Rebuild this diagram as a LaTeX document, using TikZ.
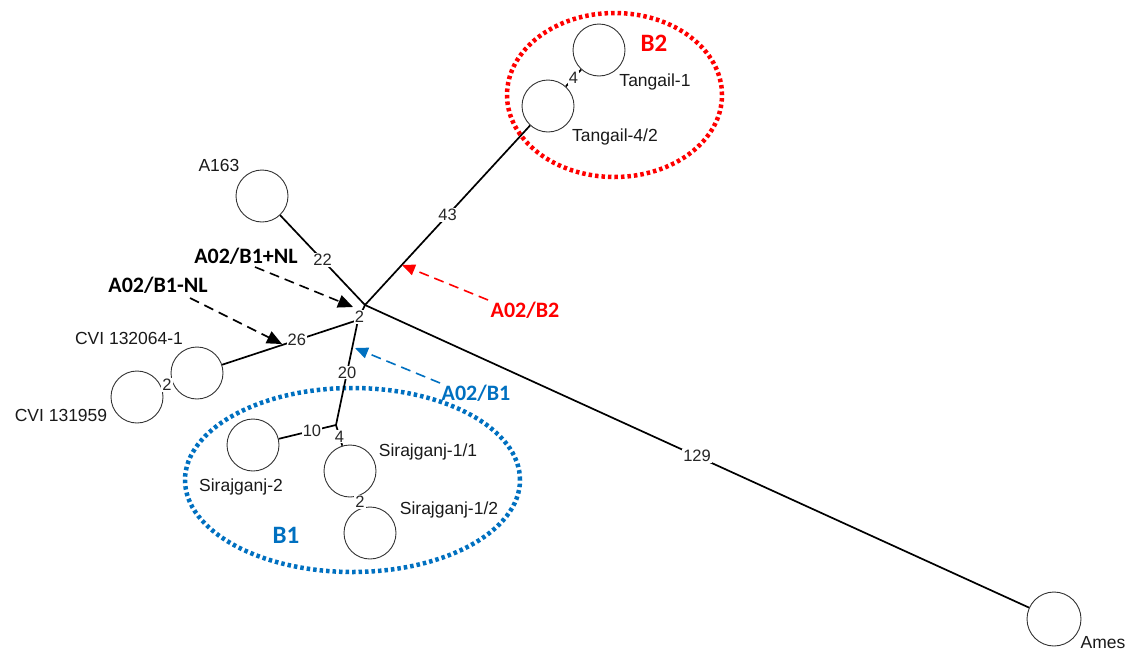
\documentclass[tikz,border=0pt]{standalone}
\usepackage{fontspec}
\setmainfont{Liberation Sans}
\newfontfamily\calib{Carlito}
\usetikzlibrary{arrows.meta}
\definecolor{grpred}{RGB}{255,0,0}
\definecolor{grpblue}{RGB}{0,112,192}
\begin{document}
\begin{tikzpicture}[x=1pt,y=-1pt,
  hap/.style={circle,draw=black!80,line width=0.9pt,minimum size=52pt,inner sep=0pt},
  edge/.style={line width=1.7pt,black},
  elabel/.style={fill=white,inner sep=1pt,font=\fontsize{16.5}{16.5}\selectfont,text=black!85},
  hname/.style={font=\fontsize{17.5}{18}\selectfont,inner sep=0pt,text=black!90},
  tag/.style={font=\calib\bfseries\fontsize{22}{22}\selectfont,inner sep=0pt},
  darrow/.style={line width=1.6pt,dash pattern=on 10pt off 6pt,-{Triangle[length=15pt,width=13pt]}},
  grp/.style={line width=4.5pt,dash pattern=on 3.5pt off 3pt},
]
\useasboundingbox (0,0) rectangle (1132,651);

% group outlines
\draw[grp,grpred] (614.5,95) ellipse[x radius=107.5pt,y radius=82pt];
\draw[grp,grpblue] (352.5,480) ellipse[x radius=167.5pt,y radius=92pt];

% haplotype circles
\node[hap] (t1) at (599,50) {};
\node[hap] (t42) at (548,106) {};
\node[hap] (a163) at (262,196) {};
\node[hap] (cvi1) at (197,373) {};
\node[hap] (cvi2) at (137,397) {};
\node[hap] (s2) at (253,445) {};
\node[hap] (s11) at (350,471) {};
\node[hap] (s12) at (370,533) {};
\node[hap,minimum size=54pt] (ames) at (1054,619) {};

% median vertices
\coordinate (hub) at (365,305);
\coordinate (j1) at (358,320);
\coordinate (j2) at (336,425);

% network edges
\draw[edge] (hub) -- (t42);
\draw[edge] (hub) -- (a163);
\draw[edge] (hub) -- (ames);
\draw[edge] (hub) -- (j1);
\draw[edge] (j1) -- (cvi1);
\draw[edge] (j1) -- (j2);
\draw[edge] (j2) -- (s2);
\draw[edge] (j2) -- (s11);
\draw[edge] (s11) -- (s12);
\draw[edge] (cvi1) -- (cvi2);
\draw[edge] (t1) -- (t42);

% mutation counts
\path (hub) -- (t42) node[elabel,pos=0.5] (m43) {43};
\path (hub) -- (a163) node[elabel,pos=0.5] (m22) {22};
\path (hub) -- (ames) node[elabel,pos=0.5] (m129) {129};
\path (hub) -- (j1) node[elabel,pos=0.8] (m2a) {2};
\path (j1) -- (cvi1) node[elabel,pos=0.45] (m26) {26};
\path (j1) -- (j2) node[elabel,pos=0.5] (m20) {20};
\path (j2) -- (s2) node[elabel,pos=0.42] (m10) {10};
\path (j2) -- (s11) node[elabel,pos=0.55] (m4a) {4};
\path (s11) -- (s12) node[elabel,pos=0.5] (m2b) {2};
\path (cvi1) -- (cvi2) node[elabel,pos=0.5] (m2c) {2};
\path (t1) -- (t42) node[elabel,pos=0.5] (m4b) {4};

% haplotype names
\node[hname] (lt1) at (655,82) {Tangail-1};
\node[hname] (lt42) at (615,137) {Tangail-4/2};
\node[hname] (la163) at (219,165) {A163};
\node[hname] (lcvi1) at (129,338) {CVI 132064-1};
\node[hname] (lcvi2) at (61,415) {CVI 131959};
\node[hname] (ls2) at (241,487) {Sirajganj-2};
\node[hname] (ls11) at (428,452) {Sirajganj-1/1};
\node[hname] (ls12) at (449,510) {Sirajganj-1/2};
\node[hname] (lames) at (1103,643) {Ames};

% group names
\node[tag,grpred,font=\calib\bfseries\fontsize{25}{25}\selectfont] (gb2) at (654,43) {B2};
\node[tag,grpblue,font=\calib\bfseries\fontsize{25}{25}\selectfont] (gb1) at (286,535) {B1};

% lineage markers
\node[tag] (lnlp) at (246,256) {A02/B1+NL};
\node[tag] (lnlm) at (158,285) {A02/B1-NL};
\node[tag,grpred] (lb2) at (525,310) {A02/B2};
\node[tag,grpblue] (lb1) at (476,393) {A02/B1};

\coordinate (snlp) at (255,267);
\coordinate (enlp) at (353,307);
\coordinate (snlm) at (190,298);
\coordinate (enlm) at (282,344);
\coordinate (sb2) at (488,300);
\coordinate (eb2) at (402,265);
\coordinate (sb1) at (440,383);
\coordinate (eb1) at (355,348);

\draw[darrow,black] (snlp) -- (enlp);
\draw[darrow,black] (snlm) -- (enlm);
\draw[darrow,grpred,-{Triangle[length=13pt,width=11pt]}] (sb2) -- (eb2);
\draw[darrow,grpblue,-{Triangle[length=13pt,width=11pt]}] (sb1) -- (eb1);
\end{tikzpicture}
\end{document}
